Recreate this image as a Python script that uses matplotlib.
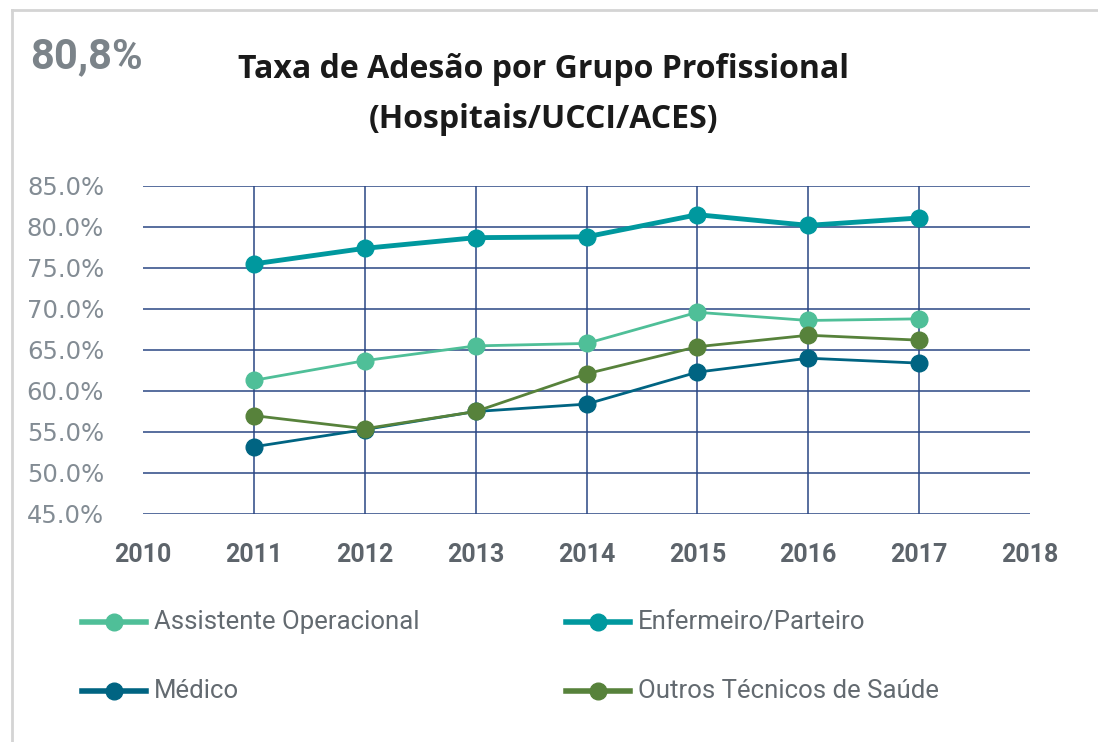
import matplotlib
matplotlib.use("Agg")
import matplotlib.pyplot as plt
from matplotlib.lines import Line2D

# data
years = [2011, 2012, 2013, 2014, 2015, 2016, 2017]
assistente = [61.3, 63.7, 65.5, 65.8, 69.6, 68.6, 68.8]
enfermeiro = [75.5, 77.4, 78.7, 78.8, 81.5, 80.2, 81.1]
medico = [53.2, 55.3, 57.5, 58.4, 62.3, 64.0, 63.4]
outros = [57.0, 55.4, 57.5, 62.1, 65.4, 66.8, 66.2]

series_names = ["Assistente Operacional", "Enfermeiro/Parteiro", "Médico", "Outros Técnicos de Saúde"]
series_colors = ["#4fbf98", "#00989e", "#006482", "#57823b"]
series_widths = [2.0, 3.5, 2.0, 2.0]

year_ticks = [2010, 2011, 2012, 2013, 2014, 2015, 2016, 2017, 2018]
y_ticks = [45, 50, 55, 60, 65, 70, 75, 80, 85]

grid_col = "#2a4784"
tick_grey = "#838c94"
year_grey = "#5d646b"

fig = plt.figure(figsize=(10.98, 7.42), dpi=100)
ax = fig.add_axes([143 / 1098, 1 - 514 / 742, (1030 - 143) / 1098, (514 - 186) / 742])

# frame around the whole picture (only top/left visible)
fig.add_artist(Line2D([12 / 1098, 12 / 1098], [0, 1 - 10 / 742], color="#d4d4d4", lw=2, transform=fig.transFigure))
fig.add_artist(Line2D([12 / 1098, 1], [1 - 10 / 742, 1 - 10 / 742], color="#d4d4d4", lw=2, transform=fig.transFigure))

ax.set_xlim(2010, 2018)
ax.set_ylim(45, 85)
for y in y_ticks:
    ax.axhline(y, color=grid_col, lw=1.1, zorder=1)
for x in years:
    ax.axvline(x, color=grid_col, lw=1.1, zorder=1)

all_series = [assistente, enfermeiro, medico, outros]
for vals, name, col, lw in zip(all_series, series_names, series_colors, series_widths):
    ax.plot(years, vals, color=col, lw=lw, marker="o", markersize=12, label=name, zorder=3,
            solid_capstyle="round")

for s in ax.spines.values():
    s.set_visible(False)
ax.tick_params(length=0)
ax.set_yticks(y_ticks)
ax.set_yticklabels(["%.1f%%" % v for v in y_ticks], fontsize=17.5, color=tick_grey, family="DejaVu Sans")
ax.tick_params(axis="y", pad=28)
ax.set_xticks(year_ticks)
ax.set_xticklabels([str(v) for v in year_ticks], fontsize=18, fontweight="bold", color=year_grey, family="Roboto")
ax.tick_params(axis="x", pad=21)

fig.text(30 / 1098, 1 - 57 / 742, "80,8%", fontsize=30, fontweight="bold", color="#7b8389",
         family="Roboto", va="center", ha="left")
fig.text(543 / 1098, 1 - 70 / 742, "Taxa de Adesão por Grupo Profissional", fontsize=23,
         fontweight="bold", color="#1a1a1a", family="Open Sans", ha="center", va="center")
fig.text(543 / 1098, 1 - 119 / 742, "(Hospitais/UCCI/ACES)", fontsize=23,
         fontweight="bold", color="#1a1a1a", family="Open Sans", ha="center", va="center")

# legend laid out like the reference: two columns, two rows
leg_pos = [(82, 622), (566, 622), (82, 691), (566, 691)]
for (lx, ly), name, col in zip(leg_pos, series_names, series_colors):
    xf0 = lx / 1098
    xf1 = (lx + 64) / 1098
    yf = 1 - ly / 742
    fig.add_artist(Line2D([xf0, xf1], [yf, yf], color=col, lw=4, transform=fig.transFigure))
    fig.add_artist(Line2D([(xf0 + xf1) / 2], [yf], color=col, marker="o", markersize=12,
                          transform=fig.transFigure))
    fig.text((lx + 72) / 1098, yf, name, fontsize=18.5, color="#636a70", family="Roboto",
             va="center", ha="left")

fig.savefig("out.png", dpi=100)
